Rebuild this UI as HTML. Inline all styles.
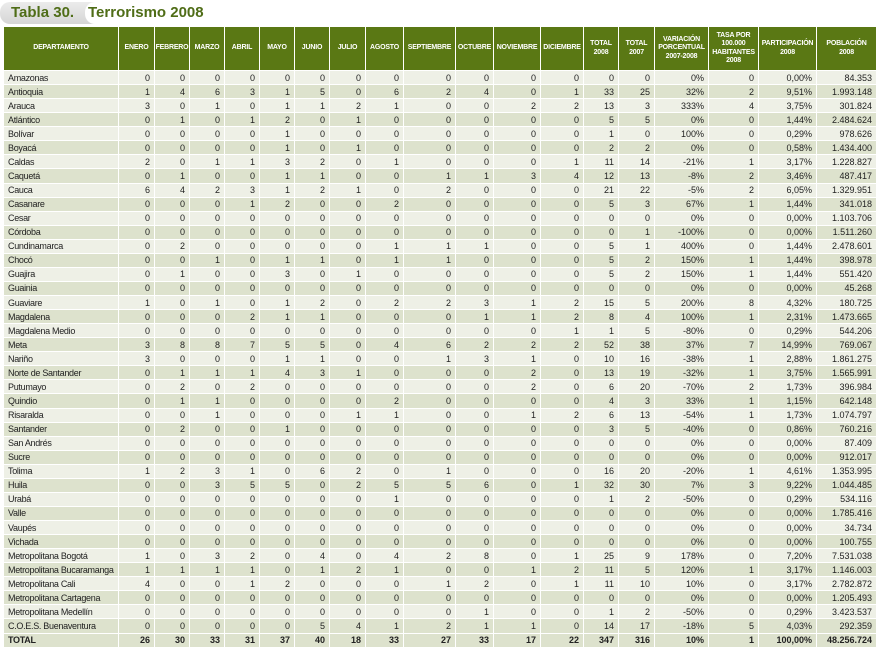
<!DOCTYPE html>
<html><head><meta charset="utf-8"><style>
body{margin:0;width:879px;height:651px;background:#fff;position:relative;overflow:hidden;font-family:"Liberation Sans",sans-serif}
.tab1{position:absolute;left:0;top:2px;width:100px;height:22px;background:linear-gradient(#ececec,#d6d6d6);border-radius:10px 0 0 10px}
.tab2{position:absolute;left:85px;top:2px;width:794px;height:22px;background:#fff;border-radius:10px 0 0 10px}
.t{position:absolute;top:4px;font-size:15px;font-weight:bold;color:#4f6d17}
table{position:absolute;left:3px;top:26px;border-collapse:collapse;table-layout:fixed;width:873px}
td,th{border:1px solid #fff;padding:0 4px 0 0;text-align:right;font-size:9px;color:#222;white-space:nowrap;overflow:hidden;box-sizing:border-box}
th{background:#5a7814;color:#fff;font-size:7px;font-weight:bold;text-align:center;padding:0;height:44px;line-height:8.5px;letter-spacing:-0.2px}
tbody tr{height:14.07px}
tbody td{line-height:12px}
tbody tr:nth-child(odd) td{background:#eef0e6}
tbody tr:nth-child(even) td{background:#dde2cd}
td:first-child{text-align:left;padding-left:4px;letter-spacing:-0.3px}
tr.tot td{font-weight:bold;background:#dde2cd!important}
</style></head><body>
<div class="tab1"></div><div class="tab2"></div>
<div class="t" style="left:11px">Tabla 30.</div>
<div class="t" style="left:88px">Terrorismo 2008</div>
<table>
<colgroup><col style="width:115px"><col style="width:36px"><col style="width:35px"><col style="width:35px"><col style="width:35px"><col style="width:35px"><col style="width:35px"><col style="width:36px"><col style="width:38px"><col style="width:52px"><col style="width:38px"><col style="width:47px"><col style="width:43px"><col style="width:35px"><col style="width:36px"><col style="width:54px"><col style="width:50px"><col style="width:58px"><col style="width:60px"></colgroup>
<thead><tr><th>DEPARTAMENTO</th><th>ENERO</th><th>FEBRERO</th><th>MARZO</th><th>ABRIL</th><th>MAYO</th><th>JUNIO</th><th>JULIO</th><th>AGOSTO</th><th>SEPTIEMBRE</th><th>OCTUBRE</th><th>NOVIEMBRE</th><th>DICIEMBRE</th><th>TOTAL<br>2008</th><th>TOTAL<br>2007</th><th>VARIACIÓN<br>PORCENTUAL<br>2007-2008</th><th>TASA POR<br>100.000<br>HABITANTES<br>2008</th><th>PARTICIPACIÓN<br>2008</th><th>POBLACIÓN<br>2008</th></tr></thead>
<tbody>
<tr><td>Amazonas<td>0<td>0<td>0<td>0<td>0<td>0<td>0<td>0<td>0<td>0<td>0<td>0<td>0<td>0<td>0%<td>0<td>0,00%<td>84.353
<tr><td>Antioquia<td>1<td>4<td>6<td>3<td>1<td>5<td>0<td>6<td>2<td>4<td>0<td>1<td>33<td>25<td>32%<td>2<td>9,51%<td>1.993.148
<tr><td>Arauca<td>3<td>0<td>1<td>0<td>1<td>1<td>2<td>1<td>0<td>0<td>2<td>2<td>13<td>3<td>333%<td>4<td>3,75%<td>301.824
<tr><td>Atlántico<td>0<td>1<td>0<td>1<td>2<td>0<td>1<td>0<td>0<td>0<td>0<td>0<td>5<td>5<td>0%<td>0<td>1,44%<td>2.484.624
<tr><td>Bolívar<td>0<td>0<td>0<td>0<td>1<td>0<td>0<td>0<td>0<td>0<td>0<td>0<td>1<td>0<td>100%<td>0<td>0,29%<td>978.626
<tr><td>Boyacá<td>0<td>0<td>0<td>0<td>1<td>0<td>1<td>0<td>0<td>0<td>0<td>0<td>2<td>2<td>0%<td>0<td>0,58%<td>1.434.400
<tr><td>Caldas<td>2<td>0<td>1<td>1<td>3<td>2<td>0<td>1<td>0<td>0<td>0<td>1<td>11<td>14<td>-21%<td>1<td>3,17%<td>1.228.827
<tr><td>Caquetá<td>0<td>1<td>0<td>0<td>1<td>1<td>0<td>0<td>1<td>1<td>3<td>4<td>12<td>13<td>-8%<td>2<td>3,46%<td>487.417
<tr><td>Cauca<td>6<td>4<td>2<td>3<td>1<td>2<td>1<td>0<td>2<td>0<td>0<td>0<td>21<td>22<td>-5%<td>2<td>6,05%<td>1.329.951
<tr><td>Casanare<td>0<td>0<td>0<td>1<td>2<td>0<td>0<td>2<td>0<td>0<td>0<td>0<td>5<td>3<td>67%<td>1<td>1,44%<td>341.018
<tr><td>Cesar<td>0<td>0<td>0<td>0<td>0<td>0<td>0<td>0<td>0<td>0<td>0<td>0<td>0<td>0<td>0%<td>0<td>0,00%<td>1.103.706
<tr><td>Córdoba<td>0<td>0<td>0<td>0<td>0<td>0<td>0<td>0<td>0<td>0<td>0<td>0<td>0<td>1<td>-100%<td>0<td>0,00%<td>1.511.260
<tr><td>Cundinamarca<td>0<td>2<td>0<td>0<td>0<td>0<td>0<td>1<td>1<td>1<td>0<td>0<td>5<td>1<td>400%<td>0<td>1,44%<td>2.478.601
<tr><td>Chocó<td>0<td>0<td>1<td>0<td>1<td>1<td>0<td>1<td>1<td>0<td>0<td>0<td>5<td>2<td>150%<td>1<td>1,44%<td>398.978
<tr><td>Guajira<td>0<td>1<td>0<td>0<td>3<td>0<td>1<td>0<td>0<td>0<td>0<td>0<td>5<td>2<td>150%<td>1<td>1,44%<td>551.420
<tr><td>Guainia<td>0<td>0<td>0<td>0<td>0<td>0<td>0<td>0<td>0<td>0<td>0<td>0<td>0<td>0<td>0%<td>0<td>0,00%<td>45.268
<tr><td>Guaviare<td>1<td>0<td>1<td>0<td>1<td>2<td>0<td>2<td>2<td>3<td>1<td>2<td>15<td>5<td>200%<td>8<td>4,32%<td>180.725
<tr><td>Magdalena<td>0<td>0<td>0<td>2<td>1<td>1<td>0<td>0<td>0<td>1<td>1<td>2<td>8<td>4<td>100%<td>1<td>2,31%<td>1.473.665
<tr><td>Magdalena Medio<td>0<td>0<td>0<td>0<td>0<td>0<td>0<td>0<td>0<td>0<td>0<td>1<td>1<td>5<td>-80%<td>0<td>0,29%<td>544.206
<tr><td>Meta<td>3<td>8<td>8<td>7<td>5<td>5<td>0<td>4<td>6<td>2<td>2<td>2<td>52<td>38<td>37%<td>7<td>14,99%<td>769.067
<tr><td>Nariño<td>3<td>0<td>0<td>0<td>1<td>1<td>0<td>0<td>1<td>3<td>1<td>0<td>10<td>16<td>-38%<td>1<td>2,88%<td>1.861.275
<tr><td>Norte de Santander<td>0<td>1<td>1<td>1<td>4<td>3<td>1<td>0<td>0<td>0<td>2<td>0<td>13<td>19<td>-32%<td>1<td>3,75%<td>1.565.991
<tr><td>Putumayo<td>0<td>2<td>0<td>2<td>0<td>0<td>0<td>0<td>0<td>0<td>2<td>0<td>6<td>20<td>-70%<td>2<td>1,73%<td>396.984
<tr><td>Quindio<td>0<td>1<td>1<td>0<td>0<td>0<td>0<td>2<td>0<td>0<td>0<td>0<td>4<td>3<td>33%<td>1<td>1,15%<td>642.148
<tr><td>Risaralda<td>0<td>0<td>1<td>0<td>0<td>0<td>1<td>1<td>0<td>0<td>1<td>2<td>6<td>13<td>-54%<td>1<td>1,73%<td>1.074.797
<tr><td>Santander<td>0<td>2<td>0<td>0<td>1<td>0<td>0<td>0<td>0<td>0<td>0<td>0<td>3<td>5<td>-40%<td>0<td>0,86%<td>760.216
<tr><td>San Andrés<td>0<td>0<td>0<td>0<td>0<td>0<td>0<td>0<td>0<td>0<td>0<td>0<td>0<td>0<td>0%<td>0<td>0,00%<td>87.409
<tr><td>Sucre<td>0<td>0<td>0<td>0<td>0<td>0<td>0<td>0<td>0<td>0<td>0<td>0<td>0<td>0<td>0%<td>0<td>0,00%<td>912.017
<tr><td>Tolima<td>1<td>2<td>3<td>1<td>0<td>6<td>2<td>0<td>1<td>0<td>0<td>0<td>16<td>20<td>-20%<td>1<td>4,61%<td>1.353.995
<tr><td>Huila<td>0<td>0<td>3<td>5<td>5<td>0<td>2<td>5<td>5<td>6<td>0<td>1<td>32<td>30<td>7%<td>3<td>9,22%<td>1.044.485
<tr><td>Urabá<td>0<td>0<td>0<td>0<td>0<td>0<td>0<td>1<td>0<td>0<td>0<td>0<td>1<td>2<td>-50%<td>0<td>0,29%<td>534.116
<tr><td>Valle<td>0<td>0<td>0<td>0<td>0<td>0<td>0<td>0<td>0<td>0<td>0<td>0<td>0<td>0<td>0%<td>0<td>0,00%<td>1.785.416
<tr><td>Vaupés<td>0<td>0<td>0<td>0<td>0<td>0<td>0<td>0<td>0<td>0<td>0<td>0<td>0<td>0<td>0%<td>0<td>0,00%<td>34.734
<tr><td>Vichada<td>0<td>0<td>0<td>0<td>0<td>0<td>0<td>0<td>0<td>0<td>0<td>0<td>0<td>0<td>0%<td>0<td>0,00%<td>100.755
<tr><td>Metropolitana Bogotá<td>1<td>0<td>3<td>2<td>0<td>4<td>0<td>4<td>2<td>8<td>0<td>1<td>25<td>9<td>178%<td>0<td>7,20%<td>7.531.038
<tr><td>Metropolitana Bucaramanga<td>1<td>1<td>1<td>1<td>0<td>1<td>2<td>1<td>0<td>0<td>1<td>2<td>11<td>5<td>120%<td>1<td>3,17%<td>1.146.003
<tr><td>Metropolitana Cali<td>4<td>0<td>0<td>1<td>2<td>0<td>0<td>0<td>1<td>2<td>0<td>1<td>11<td>10<td>10%<td>0<td>3,17%<td>2.782.872
<tr><td>Metropolitana Cartagena<td>0<td>0<td>0<td>0<td>0<td>0<td>0<td>0<td>0<td>0<td>0<td>0<td>0<td>0<td>0%<td>0<td>0,00%<td>1.205.493
<tr><td>Metropolitana Medellín<td>0<td>0<td>0<td>0<td>0<td>0<td>0<td>0<td>0<td>1<td>0<td>0<td>1<td>2<td>-50%<td>0<td>0,29%<td>3.423.537
<tr><td>C.O.E.S. Buenaventura<td>0<td>0<td>0<td>0<td>0<td>5<td>4<td>1<td>2<td>1<td>1<td>0<td>14<td>17<td>-18%<td>5<td>4,03%<td>292.359
<tr class="tot"><td>TOTAL<td>26<td>30<td>33<td>31<td>37<td>40<td>18<td>33<td>27<td>33<td>17<td>22<td>347<td>316<td>10%<td>1<td>100,00%<td>48.256.724
</tbody></table>
</body></html>
